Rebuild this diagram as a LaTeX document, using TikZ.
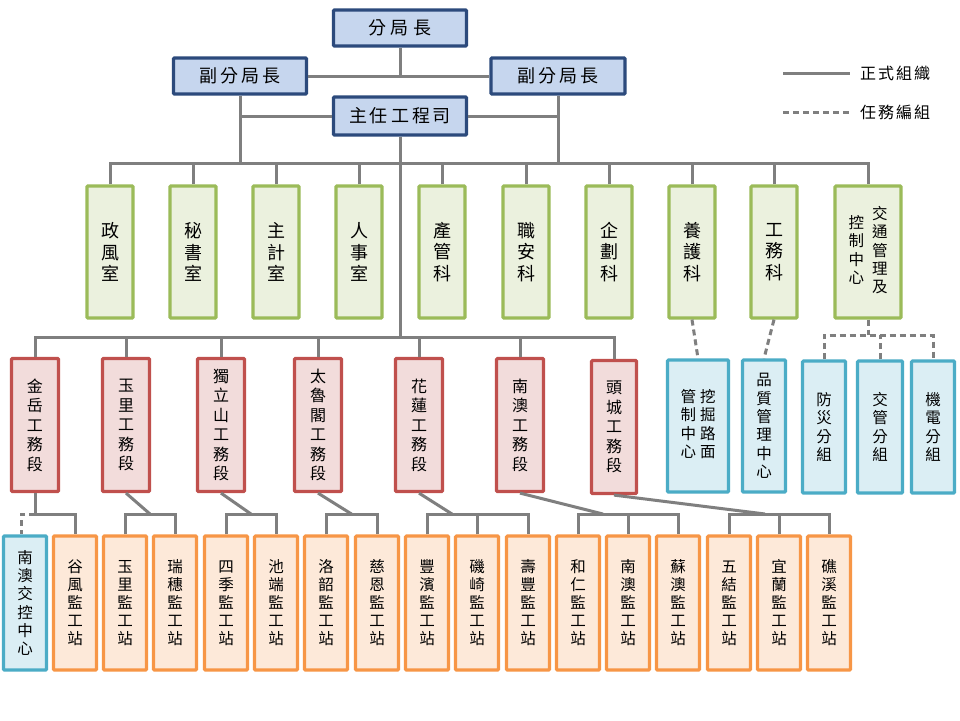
\documentclass[tikz,border=0pt]{standalone}
\usepackage{fontspec}
\setmainfont{Noto Sans CJK TC}
\usepackage{xcolor}
\usepackage{tikz}
\usetikzlibrary{positioning,calc}

\definecolor{hqfill}{HTML}{C6D6EE}
\definecolor{hqline}{HTML}{2C4A7C}
\definecolor{unitfill}{HTML}{EBF1DE}
\definecolor{unitline}{HTML}{9BBB59}
\definecolor{secfill}{HTML}{F2DCDB}
\definecolor{secline}{HTML}{C0504D}
\definecolor{taskfill}{HTML}{DBEEF4}
\definecolor{taskline}{HTML}{4BACC6}
\definecolor{stafill}{HTML}{FDE9D9}
\definecolor{staline}{HTML}{F79646}
\definecolor{linkgray}{HTML}{7F7F7F}

\newcommand{\vcol}[1]{\begin{tabular}[c]{@{}c@{}}#1\end{tabular}}

\begin{document}
\begin{tikzpicture}[x=1pt,y=-1pt,
        box/.style={draw,line width=3.2pt,rounded corners=1pt,inner sep=0pt,align=center,text=black},
        hqbox/.style={box,draw=hqline,fill=hqfill,minimum width=133pt,minimum height=36pt,font=\fontsize{18}{20}\selectfont},
        unitbox/.style={box,draw=unitline,fill=unitfill,minimum width=46pt,minimum height=132pt,font=\fontsize{18}{21.5}\selectfont},
        secbox/.style={box,draw=secline,fill=secfill,minimum width=47pt,minimum height=133pt,font=\fontsize{16}{19.5}\selectfont},
        taskbox/.style={box,draw=taskline,fill=taskfill,minimum width=43pt,minimum height=132pt,font=\fontsize{15.5}{18.3}\selectfont},
        stabox/.style={box,draw=staline,fill=stafill,minimum width=43pt,minimum height=134pt,font=\fontsize{15.5}{18}\selectfont},
        legtext/.style={inner sep=0pt,anchor=west,font=\fontsize{16}{18}\selectfont},
        link/.style={draw=linkgray,line width=3pt},
        tasklink/.style={link,dash pattern=on 6pt off 4pt}]
        \path[fill=white,use as bounding box] (0,0) rectangle (960,720);

        % bus levels
        \coordinate (busA) at (0,163);
        \coordinate (busB) at (0,337);
        \coordinate (busC) at (0,335);
        \coordinate (busD) at (0,514);

        % Head office
        \node[hqbox] (chief) at (400,28) {分\hspace{5pt}局\hspace{5pt}長};
        \node[hqbox] (depL) at (240,76) {副\hspace{3pt}分\hspace{3pt}局\hspace{3pt}長};
        \node[hqbox,minimum width=134pt] (depR) at (558,76) {副\hspace{3pt}分\hspace{3pt}局\hspace{3pt}長};
        \node[hqbox,minimum height=38pt] (eng) at (400,116) {主\hspace{3pt}任\hspace{3pt}工\hspace{3pt}程\hspace{3pt}司};

        % Offices
        \node[unitbox] (zf) at (110,252) {政\\風\\室};
        \node[unitbox] (ms) at (193,252) {秘\\書\\室};
        \node[unitbox] (zj) at (276,252) {主\\計\\室};
        \node[unitbox] (rs) at (359,252) {人\\事\\室};
        \node[unitbox] (cg) at (442,252) {產\\管\\科};
        \node[unitbox] (za) at (526,252) {職\\安\\科};
        \node[unitbox] (qh) at (609,252) {企\\劃\\科};
        \node[unitbox] (yh) at (692,252) {養\\護\\科};
        \node[unitbox] (gw) at (774,252) {工\\務\\科};
        \node[unitbox,minimum width=66pt,font=\fontsize{15.5}{18}\selectfont] (jt) at (868,252)
            {\vcol{控\\制\\中\\心}\hspace{8pt}\vcol{交\\通\\管\\理\\及}};

        % Sections
        \node[secbox] (jysec) at (35,425) {金\\岳\\工\\務\\段};
        \node[secbox] (ylsec) at (126,425) {玉\\里\\工\\務\\段};
        \node[secbox] (dlssec) at (221,425) {獨\\立\\山\\工\\務\\段};
        \node[secbox] (tlgsec) at (318,425) {太\\魯\\閣\\工\\務\\段};
        \node[secbox] (hlsec) at (419,425) {花\\蓮\\工\\務\\段};
        \node[secbox] (nasec) at (520,425) {南\\澳\\工\\務\\段};
        \node[secbox,minimum width=45pt] (tcsec) at (614,427) {頭\\城\\工\\務\\段};

        % Task groups
        \node[taskbox,minimum width=61pt] (wj) at (698,426) {\vcol{管\\制\\中\\心}\hspace{4pt}\vcol{挖\\掘\\路\\面}};
        \node[taskbox] (pz) at (764,426) {品\\質\\管\\理\\中\\心};
        \node[taskbox] (fz) at (824,427) {防\\災\\分\\組};
        \node[taskbox,minimum width=45pt] (jg) at (880,427) {交\\管\\分\\組};
        \node[taskbox] (jd) at (933,427) {機\\電\\分\\組};

        % Stations
        \node[taskbox,minimum height=134pt] (nakz) at (25,603) {南\\澳\\交\\控\\中\\心};
        \node[stabox] (gfst) at (75,603) {谷\\風\\監\\工\\站};
        \node[stabox] (ylst) at (125,603) {玉\\里\\監\\工\\站};
        \node[stabox] (rsst) at (175,603) {瑞\\穗\\監\\工\\站};
        \node[stabox] (sjst) at (226,603) {四\\季\\監\\工\\站};
        \node[stabox] (cdst) at (276,603) {池\\端\\監\\工\\站};
        \node[stabox] (lsst) at (326,603) {洛\\韶\\監\\工\\站};
        \node[stabox] (cest) at (377,603) {慈\\恩\\監\\工\\站};
        \node[stabox] (fbst) at (427,603) {豐\\濱\\監\\工\\站};
        \node[stabox] (qqst) at (477,603) {磯\\崎\\監\\工\\站};
        \node[stabox] (sfst) at (528,603) {壽\\豐\\監\\工\\站};
        \node[stabox] (hrst) at (578,603) {和\\仁\\監\\工\\站};
        \node[stabox] (nast) at (628,603) {南\\澳\\監\\工\\站};
        \node[stabox] (sast) at (678,603) {蘇\\澳\\監\\工\\站};
        \node[stabox] (wjst) at (729,603) {五\\結\\監\\工\\站};
        \node[stabox] (ylnst) at (779,603) {宜\\蘭\\監\\工\\站};
        \node[stabox] (qxst) at (829,603) {礁\\溪\\監\\工\\站};

        % Head office links
        \draw[link] (chief.south) -- (chief.south |- depL.east);
        \draw[link] (depL.east) -- (depR.west);
        \draw[link] (depL.south) -- (depL.south |- busA);
        \draw[link] (depR.south) -- (depR.south |- busA);
        \draw[link] (eng.west) -- (eng.west -| depL.south);
        \draw[link] (eng.east) -- (eng.east -| depR.south);

        % Offices bus
        \draw[link] (zf.north) |- (jt.north |- busA) -- (jt.north);
        \draw[link] (ms.north) -- (ms.north |- busA) (zj.north) -- (zj.north |- busA)
            (rs.north) -- (rs.north |- busA) (cg.north) -- (cg.north |- busA)
            (za.north) -- (za.north |- busA) (qh.north) -- (qh.north |- busA)
            (yh.north) -- (yh.north |- busA) (gw.north) -- (gw.north |- busA);

        % Sections bus
        \draw[link] (eng.south) -- (eng.south |- busB);
        \draw[link] (jysec.north) |- (tcsec.north |- busB) -- (tcsec.north);
        \draw[link] (ylsec.north) -- (ylsec.north |- busB) (dlssec.north) -- (dlssec.north |- busB)
            (tlgsec.north) -- (tlgsec.north |- busB) (hlsec.north) -- (hlsec.north |- busB)
            (nasec.north) -- (nasec.north |- busB);

        % Task group links
        \draw[tasklink] (yh.south) -- (wj.north);
        \draw[tasklink] (gw.south) -- (pz.north);
        \draw[tasklink] (jt.south) -- (jt.south |- busC);
        \draw[tasklink] (fz.north) |- (jd.north |- busC) -- (jd.north);
        \draw[tasklink] (jg.north) -- (jg.north |- busC);

        % Station links
        \coordinate (ylJ) at ($(ylst.north |- busD)!.5!(rsst.north |- busD)$);
        \coordinate (dlsJ) at ($(sjst.north |- busD)!.5!(cdst.north |- busD)$);
        \coordinate (tlgJ) at ($(lsst.north |- busD)!.5!(cest.north |- busD)$);
        \coordinate (hlJ) at ($(fbst.north |- busD)!.5!(qqst.north |- busD)$);
        \coordinate (naJ) at ($(hrst.north |- busD)!.5!(nast.north |- busD)$);
        \coordinate (tcJ) at ($(wjst.north |- busD)!.72!(ylnst.north |- busD)$);

        \draw[link] (jysec.south) |- (gfst.north |- busD) -- (gfst.north);
        \draw[tasklink] (jysec.south |- busD) -| ([xshift=-4pt]nakz.north);

        \draw[link] (ylsec.south) -- (ylJ);
        \draw[link] (ylst.north) |- (rsst.north |- busD) -- (rsst.north);
        \draw[link] (dlssec.south) -- (dlsJ);
        \draw[link] (sjst.north) |- (cdst.north |- busD) -- (cdst.north);
        \draw[link] (tlgsec.south) -- (tlgJ);
        \draw[link] (lsst.north) |- (cest.north |- busD) -- (cest.north);

        \draw[link] (hlsec.south) -- (hlJ);
        \draw[link] (fbst.north) |- (sfst.north |- busD) -- (sfst.north);
        \draw[link] (qqst.north) -- (qqst.north |- busD);
        \draw[link] (nasec.south) -- (naJ);
        \draw[link] (hrst.north) |- (sast.north |- busD) -- (sast.north);
        \draw[link] (nast.north) -- (nast.north |- busD);
        \draw[link] (tcsec.south) -- (tcJ);
        \draw[link] (wjst.north) |- (qxst.north |- busD) -- (qxst.north);
        \draw[link] (ylnst.north) -- (ylnst.north |- busD);

        % Legend
        \coordinate (solA) at (783,73);
        \coordinate (dasA) at (783,112);
        \node[legtext] (formal) at (860,73) {正\hspace{2pt}式\hspace{2pt}組\hspace{2pt}織};
        \node[legtext] (taskgrp) at (860,112) {任\hspace{2pt}務\hspace{2pt}編\hspace{2pt}組};
        \draw[link] (solA) -- ([xshift=-10pt]formal.west);
        \draw[tasklink] (dasA) -- ([xshift=-10pt]taskgrp.west);
    \end{tikzpicture}
\end{document}
